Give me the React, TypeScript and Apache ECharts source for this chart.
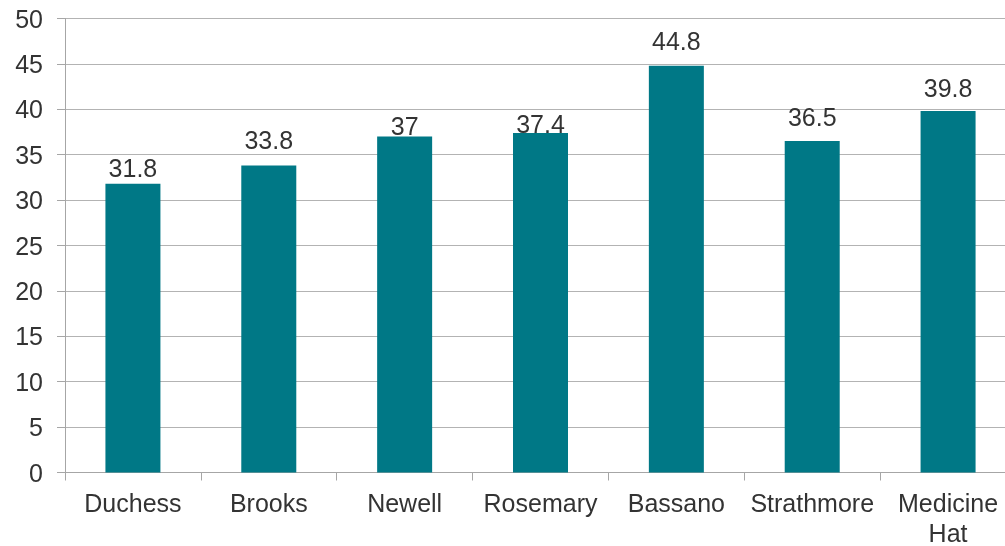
import React, { useEffect, useRef } from "react";
import * as echarts from "echarts";

const categories = ["Duchess", "Brooks", "Newell", "Rosemary", "Bassano", "Strathmore", "Medicine\nHat"];
const values = [31.8, 33.8, 37, 37.4, 44.8, 36.5, 39.8];
const yTicks = { min: 0, max: 50, interval: 5 };

// label offsets above each bar, as placed in the reference
const labelDistances = [3, 13, -2, -4, 12, 12, 11];

export default function App() {
  const ref = useRef<HTMLDivElement>(null);
  useEffect(() => {
    if (!ref.current) return;
    const chart = echarts.init(ref.current, null, { renderer: "svg" });
    const font = "'Liberation Sans', Arial, sans-serif";
    chart.setOption({
      animation: false,
      grid: { left: 65, top: 18.5, width: 951, height: 454, outerBoundsMode: "none", containLabel: false },
      xAxis: {
        type: "category",
        data: categories,
        axisLine: { show: true, lineStyle: { color: "#a6a6a6", width: 1 } },
        axisTick: { show: true, length: 8, lineStyle: { color: "#a6a6a6" } },
        axisLabel: { color: "#333", fontSize: 25, fontFamily: font, margin: 15, lineHeight: 30, interval: 0 },
      },
      yAxis: {
        type: "value",
        min: yTicks.min,
        max: yTicks.max,
        interval: yTicks.interval,
        axisLine: { show: true, lineStyle: { color: "#a6a6a6", width: 1 } },
        axisTick: { show: true, length: 8, lineStyle: { color: "#a6a6a6" } },
        axisLabel: { color: "#333", fontSize: 25, fontFamily: font, margin: 22 },
        splitLine: { show: true, lineStyle: { color: "#b3b3b3", width: 1 } },
      },
      series: [
        {
          type: "bar",
          data: values.map((v, i) => ({ value: v, label: { distance: labelDistances[i] } })),
          barWidth: 55,
          itemStyle: { color: "#007886" },
          label: { show: true, position: "top", distance: 2, color: "#333", fontSize: 25, fontFamily: font },
        },
      ],
    });
    return () => chart.dispose();
  }, []);
  return <div ref={ref} style={{ position: "fixed", left: 0, top: 0, width: 1005, height: 546 }} />;
}
